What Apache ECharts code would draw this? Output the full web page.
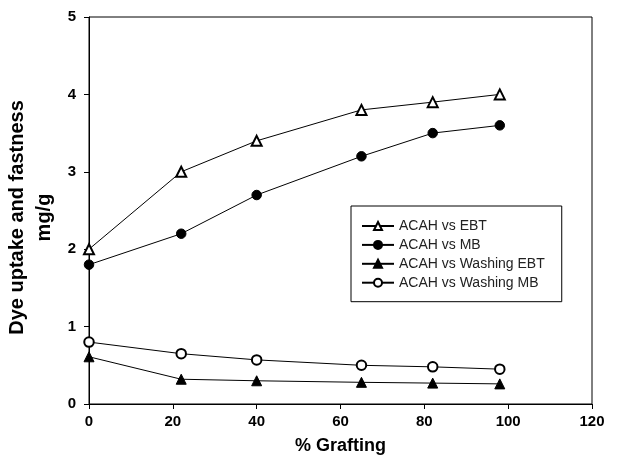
<!DOCTYPE html>
<html>
<head>
<meta charset="utf-8">
<script src="https://cdn.jsdelivr.net/npm/echarts@6/dist/echarts.min.js"></script>
<style>
  html, body { margin: 0; padding: 0; background: #fff; }
  #chart { width: 641px; height: 456px; }
</style>
</head>
<body>
<div id="chart"></div>
<script>
// % grafting
const grafting = [0, 22, 40, 65, 82, 98]
// dye uptake / fastness (mg/g)
const acahEbt = [2.0, 3.0, 3.4, 3.8, 3.9, 4.0]
const acahMb = [1.8, 2.2, 2.7, 3.2, 3.5, 3.6]
const washEbt = [0.61, 0.32, 0.30, 0.28, 0.27, 0.26]
const washMb = [0.80, 0.65, 0.57, 0.50, 0.48, 0.45]

const font = 'Liberation Sans, Arial, Helvetica, sans-serif'

function pairs (ys) {
  return grafting.map((x, i) => [x, ys[i]])
}

function lineSeries (name, ys, symbol, size) {
  return {
    name: name,
    type: 'line',
    data: pairs(ys),
    symbol: symbol,
    symbolSize: size,
    lineStyle: { color: '#000', width: 1 },
    itemStyle: { color: '#000', borderColor: '#000', borderWidth: 1 },
    emphasis: { disabled: true },
    z: 3
  }
}

const chart = echarts.init(document.getElementById('chart'))
chart.setOption({
  animation: false,
  backgroundColor: '#fff',
  grid: {
    left: 89, right: 49, top: 17, bottom: 52,
    outerBoundsMode: 'none',
    containLabel: false,
    show: true, borderColor: '#000', borderWidth: 1
  },
  legend: {
    left: 351,
    top: 206,
    orient: 'vertical',
    borderColor: '#000',
    borderWidth: 1,
    padding: [13, 17, 12, 10],
    itemWidth: 32,
    itemHeight: 10,
    itemGap: 4.9,
    textStyle: { fontFamily: font, fontSize: 14, color: '#222' },
    data: ['ACAH vs EBT', 'ACAH vs MB', 'ACAH vs Washing EBT', 'ACAH vs Washing MB']
  },
  xAxis: {
    type: 'value',
    min: 0,
    max: 120,
    interval: 20,
    name: '% Grafting',
    nameLocation: 'middle',
    nameGap: 33,
    nameMoveOverlap: false,
    nameTextStyle: { fontFamily: font, fontSize: 18, fontWeight: 'bold', color: '#000' },
    axisLine: { show: true, lineStyle: { color: '#000' } },
    axisTick: { show: true, length: 5, lineStyle: { color: '#000' } },
    axisLabel: { fontFamily: font, fontSize: 15, fontWeight: 'bold', color: '#000', margin: 10 },
    splitLine: { show: false }
  },
  yAxis: {
    type: 'value',
    min: 0,
    max: 5,
    interval: 1,
    name: 'Dye uptake and fastness\nmg/g',
    nameLocation: 'middle',
    nameGap: 31,
    nameMoveOverlap: false,
    nameTextStyle: {
      fontFamily: font, fontSize: 20, fontWeight: 'bold', color: '#000',
      lineHeight: 27, padding: [0, 14, 0, 0]
    },
    axisLine: { show: true, lineStyle: { color: '#000' } },
    axisTick: { show: true, length: 5, lineStyle: { color: '#000' } },
    axisLabel: { fontFamily: font, fontSize: 15, fontWeight: 'bold', color: '#000', margin: 13 },
    splitLine: { show: false }
  },
  series: [
    lineSeries('ACAH vs EBT', acahEbt, 'emptyTriangle', 10),
    lineSeries('ACAH vs MB', acahMb, 'circle', 9.5),
    lineSeries('ACAH vs Washing EBT', washEbt, 'triangle', 10),
    lineSeries('ACAH vs Washing MB', washMb, 'emptyCircle', 9.5)
  ]
})
</script>
</body>
</html>
